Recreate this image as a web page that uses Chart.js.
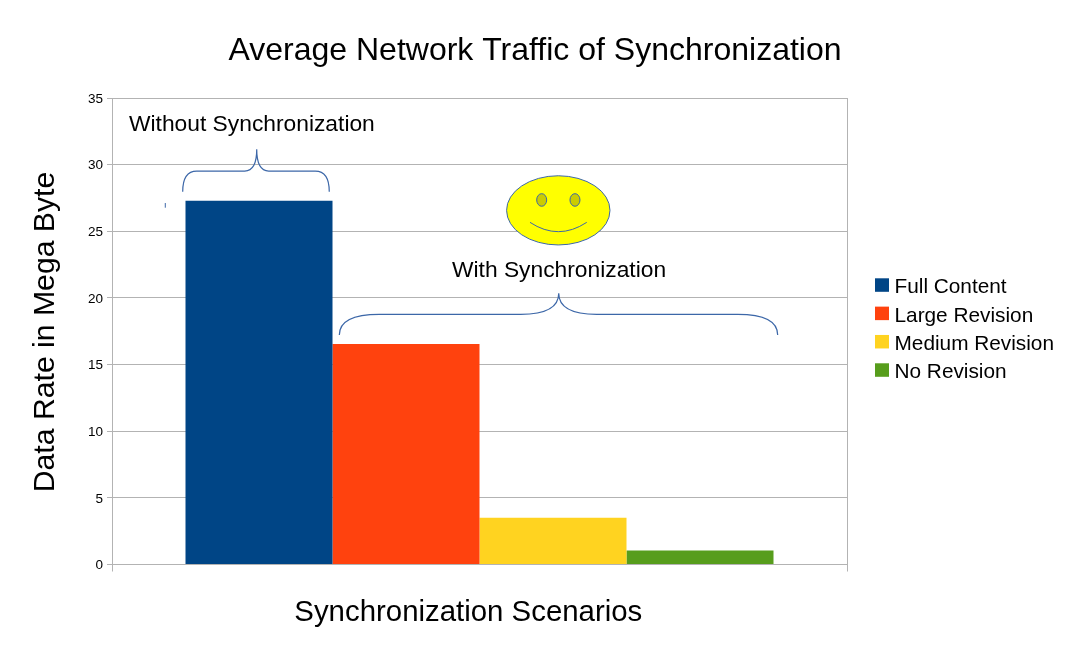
<!DOCTYPE html>
<html><head><meta charset="utf-8">
<script src="https://cdn.jsdelivr.net/npm/chart.js@4/dist/chart.umd.min.js"></script>
<style>html,body{margin:0;padding:0;background:#fff}canvas{display:block}</style>
</head><body>
<canvas id="c" width="1072" height="654" style="width:1072px;height:654px"></canvas>
<script>
// ---- data ----
const categories = [''];
const seriesNames = ['Full Content', 'Large Revision', 'Medium Revision', 'No Revision'];
const seriesValues = [27.3, 16.55, 3.5, 1.05];
const seriesColors = ['#004586', '#ff420e', '#ffd320', '#579d1c'];
const yTickValues = [0, 5, 10, 15, 20, 25, 30, 35];
const titleText = 'Average Network Traffic of Synchronization';
const xTitleText = 'Synchronization Scenarios';
const yTitleText = 'Data Rate in Mega Byte';
const noteWithout = 'Without Synchronization';
const noteWith = 'With Synchronization';

const FONT = '"Liberation Sans", Arial, sans-serif';
const GRID = '#b3b3b3';
const NOTE = '#3c67a8';

const datasets = seriesNames.map((n, i) => ({
  label: n,
  data: [seriesValues[i]],
  backgroundColor: seriesColors[i],
  borderWidth: 0,
  categoryPercentage: 0.8,
  barPercentage: 1.0
}));

const decorPlugin = {
  id: 'decor',
  afterDatasetsDraw(chart) {
    const ctx = chart.ctx, ca = chart.chartArea, ys = chart.scales.y;
    const X = f => ca.left + f * (ca.right - ca.left);
    const Y = v => ys.getPixelForValue(v);
    ctx.save();
    ctx.strokeStyle = NOTE;
    ctx.lineWidth = 1.2;
    function brace(x0, xm, x1, yEnd, yH, yPeak, rc, rm) {
      ctx.beginPath();
      ctx.moveTo(x0, yEnd);
      ctx.quadraticCurveTo(x0, yH, x0 + rc, yH);
      ctx.lineTo(xm - rm, yH);
      ctx.quadraticCurveTo(xm, yH, xm, yPeak);
      ctx.quadraticCurveTo(xm, yH, xm + rm, yH);
      ctx.lineTo(x1 - rc, yH);
      ctx.quadraticCurveTo(x1, yH, x1, yEnd);
      ctx.stroke();
    }
    brace(X(0.0962), X(0.1969), X(0.2956), Y(27.97), Y(29.52), Y(31.15), 14, 12);
    brace(X(0.3093), X(0.6078), X(0.9057), Y(17.22), Y(18.77), Y(20.35), 40, 38);

    // tiny stray mark
    ctx.lineWidth = 1;
    ctx.beginPath();
    ctx.moveTo(X(0.0725), Y(27.12));
    ctx.lineTo(X(0.0725), Y(26.77));
    ctx.stroke();

    // smiley
    const cx = X(0.6072), cy = Y(26.57);
    ctx.beginPath();
    ctx.ellipse(cx, cy, 51.7, 34.6, 0, 0, Math.PI * 2);
    ctx.fillStyle = '#ffff00';
    ctx.fill();
    ctx.stroke();
    ctx.fillStyle = '#cccc00';
    [0.5846, 0.6299].forEach(f => {
      ctx.beginPath();
      ctx.ellipse(X(f), Y(27.35), 5, 6.3, 0, 0, Math.PI * 2);
      ctx.fill();
      ctx.stroke();
    });
    ctx.beginPath();
    ctx.moveTo(X(0.5687), Y(25.67));
    ctx.quadraticCurveTo(cx, Y(24.27), X(0.6459), Y(25.67));
    ctx.stroke();

    // notes
    ctx.fillStyle = '#000';
    ctx.font = '22.8px ' + FONT;
    ctx.textBaseline = 'alphabetic';
    ctx.textAlign = 'left';
    ctx.fillText(noteWithout, X(0.0231), Y(32.52));
    ctx.textAlign = 'center';
    ctx.fillText(noteWith, X(0.6082), Y(21.59));
    ctx.restore();
  },
  afterDraw(chart) {
    const ctx = chart.ctx;
    ctx.save();
    ctx.fillStyle = '#000';
    ctx.textBaseline = 'alphabetic';
    // title
    ctx.font = '32px ' + FONT;
    ctx.textAlign = 'center';
    ctx.fillText(titleText, 535, 59.5);
    // x title
    ctx.font = '29.4px ' + FONT;
    ctx.fillText(xTitleText, 468.3, 621);
    // y title
    ctx.save();
    ctx.translate(54, 332);
    ctx.rotate(-Math.PI / 2);
    ctx.font = '30.2px ' + FONT;
    ctx.fillText(yTitleText, 0, 0);
    ctx.restore();
    // legend
    ctx.font = '20.8px ' + FONT;
    ctx.textAlign = 'left';
    chart.data.datasets.forEach((ds, i) => {
      const dy = i * 28.33;
      ctx.fillStyle = ds.backgroundColor;
      ctx.fillRect(875, 278.3 + dy, 14, 13.5);
      ctx.fillStyle = '#000';
      ctx.fillText(ds.label, 894.5, 293.3 + dy);
    });
    ctx.restore();
  }
};

new Chart(document.getElementById('c'), {
  type: 'bar',
  data: { labels: categories, datasets },
  options: {
    responsive: false,
    animation: false,
    devicePixelRatio: 1,
    layout: { padding: { left: 0, top: 98, right: 225, bottom: 0 } },
    plugins: { legend: { display: false }, title: { display: false }, tooltip: { enabled: false } },
    scales: {
      x: {
        grid: { color: GRID, offset: true, tickLength: 7, lineWidth: 1 },
        border: { color: GRID },
        ticks: { display: false },
        afterFit: s => { s.height = 89.5; }
      },
      y: {
        min: 0, max: 35,
        afterBuildTicks: s => { s.ticks = yTickValues.map(v => ({ value: v })); },
        grid: { color: GRID, tickLength: 5, lineWidth: 1 },
        border: { color: GRID },
        ticks: { color: '#000', padding: 4, labelOffset: 1, font: { family: FONT, size: 13.5 } },
        afterFit: s => { s.width = 112; }
      }
    }
  },
  plugins: [decorPlugin]
});
</script>
</body></html>
